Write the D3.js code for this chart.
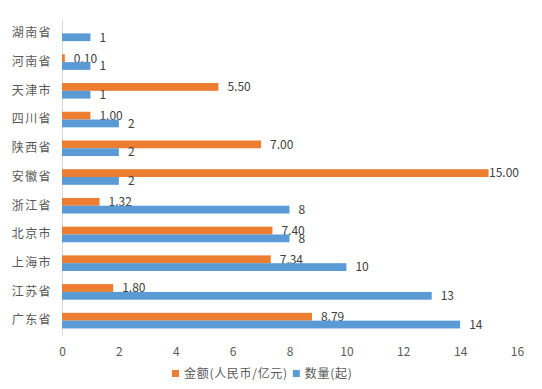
<!DOCTYPE html>
<html>
<head>
<meta charset="utf-8">
<script src="https://cdn.jsdelivr.net/npm/d3@7"></script>
<style>
  body { margin: 0; background: #fff; }
  text { font-family: "Noto Sans CJK SC", "Noto Sans", sans-serif; }
</style>
</head>
<body>
<script>
// Data
const provinces = ["湖南省", "河南省", "天津市", "四川省", "陕西省", "安徽省", "浙江省", "北京市", "上海市", "江苏省", "广东省"];
const amount = [null, 0.10, 5.50, 1.00, 7.00, 15.00, 1.32, 7.40, 7.34, 1.80, 8.79];
const count = [1, 1, 1, 2, 2, 2, 8, 8, 10, 13, 14];
const xTicks = [0, 2, 4, 6, 8, 10, 12, 14, 16];
const seriesNames = ["金额(人民币/亿元)", "数量(起)"];
const colors = ["#ED7D31", "#5B9BD5"];

const width = 542, height = 389;
const margin = { top: 19, right: 25, bottom: 54, left: 62 };

const svg = d3.select("body").append("svg")
  .attr("width", width)
  .attr("height", height);

const x = d3.scaleLinear().domain([0, 16]).range([margin.left, width - margin.right]);
const y = d3.scaleBand().domain(provinces).range([margin.top, height - margin.bottom]);
const bh = 7.8;

// Axes
const xAxis = svg.append("g")
  .attr("transform", `translate(0, ${height - margin.bottom})`)
  .call(d3.axisBottom(x).tickValues(xTicks).tickSize(0).tickPadding(12));
xAxis.select(".domain").remove();
xAxis.selectAll("text").attr("fill", "#595959").style("font-size", "12px");

const yAxis = svg.append("g")
  .attr("transform", `translate(${margin.left}, 0)`)
  .call(d3.axisLeft(y).tickSize(0).tickPadding(10));
yAxis.select(".domain").attr("stroke", "#d9d9d9");
yAxis.selectAll("text")
  .attr("fill", "#595959")
  .style("font-size", "12px")
  .style("letter-spacing", "1.4px");

// Bars
const series = [amount, count];
series.forEach((vals, si) => {
  const data = provinces.map((p, i) => ({ p, v: vals[i] })).filter(d => d.v !== null);
  const yOff = y.bandwidth() / 2 - bh + si * bh;

  svg.append("g").selectAll("rect")
    .data(data)
    .enter()
    .append("rect")
    .attr("x", x(0))
    .attr("y", d => y(d.p) + yOff)
    .attr("width", d => x(d.v) - x(0))
    .attr("height", bh)
    .attr("fill", colors[si]);

  svg.append("g").selectAll("text")
    .data(data)
    .enter()
    .append("text")
    .attr("x", d => Math.min(x(d.v) + 9, 489))
    .attr("y", d => y(d.p) + yOff + bh / 2)
    .attr("dy", "0.36em")
    .attr("fill", "#404040")
    .style("font-size", "12px")
    .text(d => si === 0 ? d.v.toFixed(2) : d.v);
});

// Legend
const legend = svg.append("g").attr("transform", `translate(172, 374)`);
let lx = 0;
seriesNames.forEach((name, i) => {
  legend.append("rect")
    .attr("x", lx).attr("y", -4)
    .attr("width", 7).attr("height", 7)
    .attr("fill", colors[i]);
  const t = legend.append("text")
    .attr("x", lx + 12).attr("y", 0)
    .attr("dy", "0.36em")
    .attr("fill", "#595959")
    .style("font-size", "12px")
    .style("letter-spacing", "0.7px")
    .text(name);
  lx += 12 + t.node().getBBox().width + 5;
});
</script>
</body>
</html>
